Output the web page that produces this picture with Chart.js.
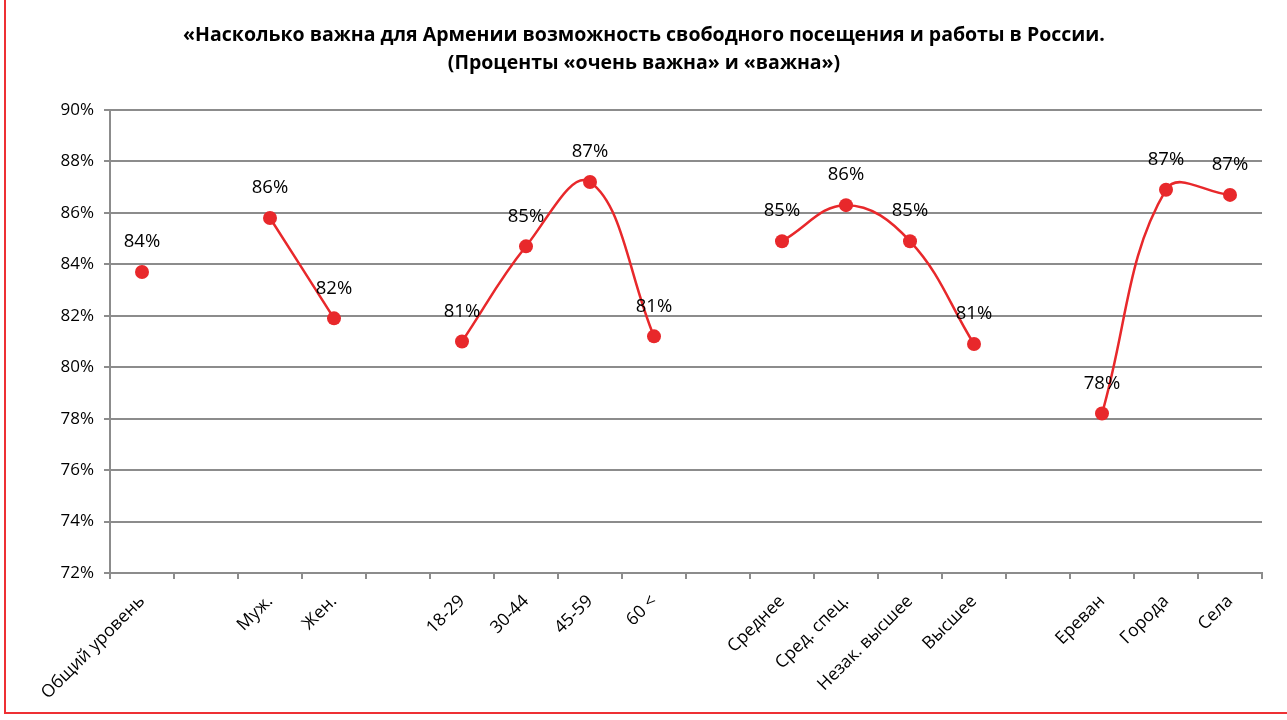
<!DOCTYPE html>
<html>
<head>
<meta charset="utf-8">
<script src="https://cdn.jsdelivr.net/npm/chart.js@4.4.1/dist/chart.umd.min.js"></script>
<style>
  html, body { margin: 0; padding: 0; background: #fff; }
  #wrap { position: relative; width: 1287px; height: 720px; }
  #frame { position: absolute; left: 4px; top: -10px; width: 1300px; height: 724px;
           border-left: 2px solid #ee3034; border-bottom: 2px solid #ee3034; box-sizing: border-box; }
  canvas { position: absolute; left: 0; top: 0; }
</style>
</head>
<body>
<div id="wrap">
  <canvas id="chart1" width="1287" height="720"></canvas>
  <div id="frame"></div>
</div>
<script>
const titleLines = [
  '«Насколько важна для Армении возможность свободного посещения и работы в России.',
  '(Проценты «очень важна» и «важна»)'
];
// empty labels are the gaps between groups
const categories = ['Общий уровень', '', 'Муж.', 'Жен.', '', '18-29', '30-44', '45-59', '60 <', '',
  'Среднее', 'Сред. спец.', 'Незак. высшее', 'Высшее', '', 'Ереван', 'Города', 'Села'];
const values = [83.7, null, 85.8, 81.9, null, 81.0, 84.7, 87.2, 81.2, null,
  84.9, 86.3, 84.9, 80.9, null, 78.2, 86.9, 86.7];
const yMin = 72;
const yMax = 90;
const yStep = 2;

const red = '#e8282b';
const axisGray = '#8c8c8c';
const font = '"Open Sans", sans-serif';

const titlePlugin = {
  id: 'titleLines',
  afterDraw(chart) {
    const c = chart.ctx;
    c.save();
    c.fillStyle = '#000';
    c.font = 'bold 19.5px ' + font;
    c.textAlign = 'center';
    c.textBaseline = 'middle';
    c.fillText(titleLines[0], 644, 35);
    c.fillText(titleLines[1], 644, 63);
    c.restore();
  }
};

const valueLabels = {
  id: 'valueLabels',
  afterDatasetsDraw(chart) {
    const c = chart.ctx;
    const meta = chart.getDatasetMeta(0);
    c.save();
    c.fillStyle = '#000';
    c.font = '18.5px ' + font;
    c.textAlign = 'center';
    c.textBaseline = 'middle';
    meta.data.forEach((pt, i) => {
      if (values[i] == null) return;
      c.fillText(Math.round(values[i]) + '%', pt.x, pt.y - 30);
    });
    c.restore();
  }
};

new Chart(document.getElementById('chart1'), {
  type: 'line',
  data: {
    labels: categories,
    datasets: [{
      data: values,
      borderColor: red,
      backgroundColor: red,
      borderWidth: 2.5,
      pointRadius: 7,
      pointBorderWidth: 0,
      pointBackgroundColor: red,
      tension: 0.4,
      spanGaps: false
    }]
  },
  options: {
    responsive: false,
    animation: false,
    events: [],
    layout: { padding: { top: 110, right: 25, left: 0, bottom: 0 } },
    plugins: { legend: { display: false }, title: { display: false }, tooltip: { enabled: false } },
    scales: {
      x: {
        offset: true,
        grid: { offset: true, drawOnChartArea: false, drawTicks: true, tickLength: 6, color: axisGray, lineWidth: 2 },
        border: { color: axisGray, width: 2 },
        ticks: { color: '#000', font: { family: font, size: 17.5 }, minRotation: 45, maxRotation: 45, autoSkip: false, padding: 12 },
        afterFit(scale) { scale.height = 147; }
      },
      y: {
        min: yMin,
        max: yMax,
        ticks: { stepSize: yStep, color: '#000', font: { family: font, size: 17 }, padding: 10,
                 callback: v => v + '%' },
        grid: { color: axisGray, lineWidth: 2, tickLength: 6 },
        border: { color: axisGray, width: 2 },
        afterFit(scale) { scale.width = 110; }
      }
    }
  },
  plugins: [titlePlugin, valueLabels]
});
</script>
</body>
</html>
